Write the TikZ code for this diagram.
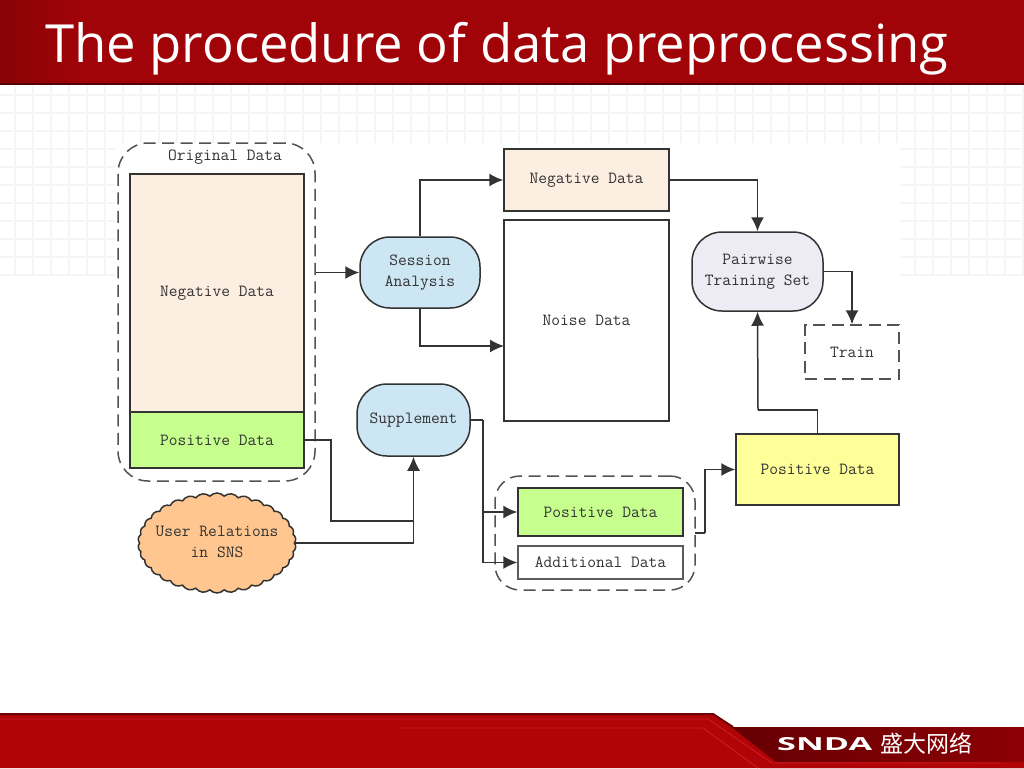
\documentclass[tikz,border=0pt]{standalone}
\usepackage{fontspec}
\setmainfont{Open Sans}
\setmonofont{Latin Modern Mono}
\newfontfamily\cjkfont{Noto Sans CJK SC}
\usetikzlibrary{arrows.meta,shapes.symbols}

\definecolor{bannerred}{HTML}{A00308}
\definecolor{bannerdark}{HTML}{880306}
\definecolor{footbright}{HTML}{B00408}
\definecolor{footdark}{HTML}{8C0004}
\definecolor{footline}{HTML}{CC2020}
\definecolor{gridline}{HTML}{F3F6F8}
\definecolor{peach}{HTML}{FDEEE2}
\definecolor{lime}{HTML}{C6FF8E}
\definecolor{skyblue}{HTML}{CDE6F4}
\definecolor{lavender}{HTML}{EDEBF3}
\definecolor{butter}{HTML}{FFFF99}
\definecolor{apricot}{HTML}{FFC68F}
\definecolor{inkline}{HTML}{333333}

\begin{document}
\begin{tikzpicture}[x=1pt,y=-1pt,
        databox/.style={draw=inkline,line width=1.5pt,font=\ttfamily\fontsize{17}{21.5}\selectfont,text=black!80,align=center,inner sep=0pt},
        process/.style={databox,rounded corners=30pt},
        group/.style={draw=inkline!85,line width=1.5pt,dash pattern=on 12pt off 6.5pt,inner sep=0pt},
        link/.style={draw=inkline,line width=1.5pt},
        arrow/.style={link,-{Latex[length=14pt,width=13pt]}}]
    \useasboundingbox (0,0) rectangle (1024,768);

    % Slide background
    \fill[white] (0,0) rectangle (1024,768);
    \foreach \gx in {15,33,...,1024} \draw[gridline,line width=1.5pt] (\gx,84) -- (\gx,275);
    \foreach \gy in {95,113,...,275} \draw[gridline,line width=1.5pt] (0,\gy) -- (1024,\gy);
    \fill[white] (115,143) rectangle (900,600);

    % Title banner
    \fill[bannerred] (0,0) rectangle (1024,83);
    \shade[left color=bannerdark,right color=bannerred] (0,0) rectangle (80,83);
    \fill[bannerdark!60!black] (0,83) rectangle (1024,84.5);
    \node[font=\fontsize{52.6}{60}\selectfont,text=white,anchor=base west,inner sep=0pt] (title) at (45,63) {The procedure of data preprocessing};

    % Footer band
    \shade[left color=footdark!70!black,right color=footdark] (713,713) -- (733,727) -- (1024,727) -- (1024,768) -- (760,768) -- cycle;
    \fill[footbright] (0,713) -- (713,713) -- (776,762) -- (1024,762) -- (1024,768) -- (0,768) -- cycle;
    \draw[footdark!80!black,line width=2pt] (0,714) -- (713,714) -- (733,727);
    \draw[footline,line width=.8pt] (0,719) -- (708,719) -- (772,763) -- (1000,763);
    \draw[footline,line width=.8pt] (400,728) -- (703,728) -- (758,768);
    \node[font=\bfseries,text=white,anchor=west,inner sep=0pt] (brand) at (777,744.5) {\resizebox{95pt}{13pt}{SNDA}};
    \node[font=\cjkfont\fontsize{23}{25}\selectfont,text=white,anchor=west,inner sep=0pt] (brandcn) at (880,744) {盛大网络};

    % Original data
    \node[group,rounded corners=30pt,minimum width=197pt,minimum height=338pt] (original) at (216.5,312) {};
    \node[font=\ttfamily\fontsize{17}{21}\selectfont,text=black!80,inner sep=0pt] (originallabel) at (225,157) {Original Data};
    \node[databox,fill=peach,minimum width=174pt,minimum height=238pt] (negative) at (217,293) {Negative Data};
    \node[databox,fill=lime,minimum width=174pt,minimum height=56pt] (positive) at (217,440) {Positive Data};

    % Cloud
    \node[databox,cloud,cloud puffs=34,cloud puff arc=95,cloud ignores aspect,fill=apricot,minimum width=158pt,minimum height=100pt] (relations) at (217,543) {};
    \node[font=\ttfamily\fontsize{17}{21.5}\selectfont,text=black!80,align=center,inner sep=0pt] (relationslabel) at (217,542) {User Relations\\in SNS};

    % Processes
    \node[process,fill=skyblue,minimum width=120pt,minimum height=71pt] (session) at (420,272.5) {Session\\Analysis};
    \node[process,fill=skyblue,minimum width=113pt,minimum height=72pt] (supplement) at (413.5,420) {Supplement};
    \node[process,fill=lavender,minimum width=131pt,minimum height=79pt] (pairwise) at (757.5,271.5) {Pairwise\\Training Set};

    % Data after session analysis
    \node[databox,fill=peach,minimum width=165pt,minimum height=62pt] (negativeout) at (586.5,180) {Negative Data};
    \node[databox,minimum width=165pt,minimum height=201pt] (noise) at (586.5,320.5) {Noise Data};

    % Data after supplement
    \node[group,rounded corners=25pt,minimum width=200pt,minimum height=114pt] (merged) at (595,533) {};
    \node[databox,fill=lime,minimum width=165pt,minimum height=48pt] (positivemid) at (600.5,512) {Positive Data};
    \node[databox,draw=inkline!80,minimum width=165pt,minimum height=33pt] (additional) at (600.5,562.5) {Additional Data};
    \node[databox,fill=butter,minimum width=163pt,minimum height=71pt] (positiveout) at (817.5,469.5) {Positive Data};
    \node[group,font=\ttfamily\fontsize{17}{21}\selectfont,text=black!80,minimum width=94pt,minimum height=54pt] (train) at (852,352) {Train};

    % Bend points
    \coordinate (noisein) at (504,346);
    \coordinate (posbend) at (331,521);
    \coordinate (relbend) at (414,521);
    \coordinate (supbend) at (483,420);
    \coordinate (yellowbend) at (758,410);
    \coordinate (mergedout) at (695,533);
    \coordinate (mergedbend) at (705,533);

    % Edges into session analysis
    \draw[arrow] (original.east |- session) -- (session.west);
    \draw[arrow] (session.north) |- (negativeout.west);
    \draw[arrow] (session.south) |- (noisein);

    % Edges into pairwise set
    \draw[arrow] (negativeout.east) -| (pairwise.north);
    \draw[arrow] (pairwise.east) -| (train.north);
    \draw[link] (positiveout.north) |- (yellowbend);
    \draw[arrow] (yellowbend) -- (pairwise.south);

    % Edges into supplement
    \draw[link] (positive.east) -| (posbend) -- (relbend);
    \draw[arrow] (relations.east) -| (supplement.south);

    % Edges from supplement
    \draw[link] (supplement.east) -- (supbend);
    \draw[arrow] (supbend) |- (positivemid.west);
    \draw[arrow] (supbend) |- (additional.west);

    % Edges to yellow box
    \draw[link] (mergedout) -- (mergedbend);
    \draw[arrow] (mergedbend) |- (positiveout.west);
\end{tikzpicture}
\end{document}
